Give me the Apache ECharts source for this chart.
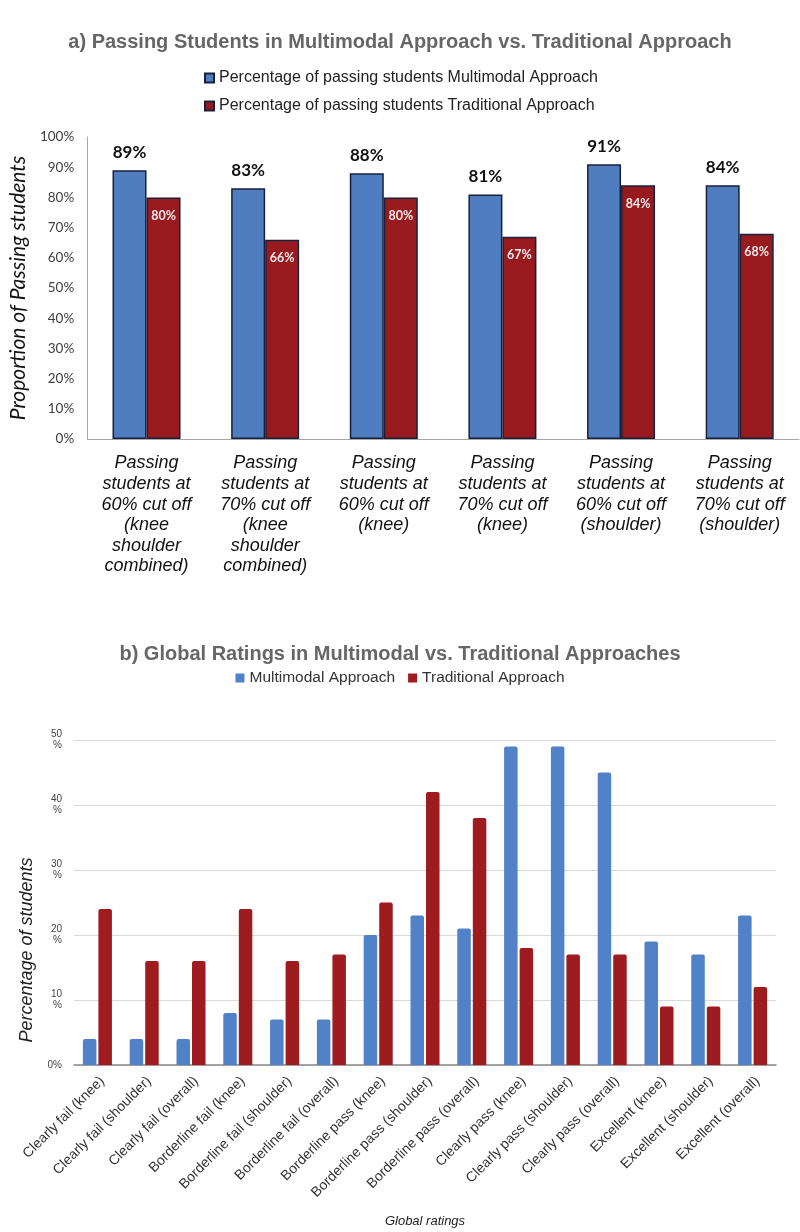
<!DOCTYPE html>
<html>
<head>
<meta charset="utf-8">
<script src="https://cdn.jsdelivr.net/npm/echarts@6/dist/echarts.min.js"></script>
<style>html,body{margin:0;padding:0;background:#fff;}#c{width:800px;height:1232px;}</style>
</head>
<body>
<div id="c"></div>
<script>
// ---- Chart a data ----
const categoriesA = [
  'Passing\nstudents at\n60% cut off\n(knee\nshoulder\ncombined)',
  'Passing\nstudents at\n70% cut off\n(knee\nshoulder\ncombined)',
  'Passing\nstudents at\n60% cut off\n(knee)',
  'Passing\nstudents at\n70% cut off\n(knee)',
  'Passing\nstudents at\n60% cut off\n(shoulder)',
  'Passing\nstudents at\n70% cut off\n(shoulder)'
];
const multimodalA = [89, 83, 88, 81, 91, 84];
const traditionalA = [80, 66, 80, 67, 84, 68];
const seriesNamesA = ['Percentage of passing students Multimodal Approach', 'Percentage of passing students Traditional Approach'];

// ---- Chart b data ----
const categoriesB = [
  'Clearly fail (knee)', 'Clearly fail (shoulder)', 'Clearly fail (overall)',
  'Borderline fail (knee)', 'Borderline fail (shoulder)', 'Borderline fail (overall)',
  'Borderline pass (knee)', 'Borderline pass (shoulder)', 'Borderline pass (overall)',
  'Clearly pass (knee)', 'Clearly pass (shoulder)', 'Clearly pass (overall)',
  'Excellent (knee)', 'Excellent (shoulder)', 'Excellent (overall)'
];
const multimodalB = [4, 4, 4, 8, 7, 7, 20, 23, 21, 49, 49, 45, 19, 17, 23];
const traditionalB = [24, 16, 16, 24, 16, 17, 25, 42, 38, 18, 17, 17, 9, 9, 12];
const seriesNamesB = ['Multimodal Approach', 'Traditional Approach'];

const chart = echarts.init(document.getElementById('c'));
const ARIAL = 'Liberation Sans, Arial, sans-serif';
const CAL = 'Lato, Carlito, sans-serif';

chart.setOption({
  backgroundColor: '#ffffff',
  animation: false,
  title: [
    { text: 'a) Passing Students in Multimodal Approach vs. Traditional Approach', left: 'center', top: 27,
      textStyle: { fontFamily: ARIAL, fontWeight: 'bold', fontSize: 20, color: '#666666' } },
    { text: 'b) Global Ratings in Multimodal vs. Traditional Approaches', left: 'center', top: 639,
      textStyle: { fontFamily: ARIAL, fontWeight: 'bold', fontSize: 20, color: '#666666' } }
  ],
  legend: [
    { data: seriesNamesA, orient: 'vertical', left: 199, top: 65, itemWidth: 9, itemHeight: 9, itemGap: 12,
      icon: 'rect', textStyle: { fontFamily: ARIAL, fontSize: 16, color: '#222' } },
    { data: seriesNamesB, orient: 'horizontal', left: 'center', top: 665, itemWidth: 9, itemHeight: 9, itemGap: 13,
      icon: 'rect', textStyle: { fontFamily: ARIAL, fontSize: 15.5, color: '#333' } }
  ],
  grid: [
    { left: 84, right: 1, top: 137, height: 302 },
    { left: 74, right: 24, top: 740, height: 325 }
  ],
  xAxis: [
    { type: 'category', gridIndex: 0, data: categoriesA,
      axisLine: { lineStyle: { color: '#a6a6a6', width: 1 } }, axisTick: { show: false },
      axisLabel: { interval: 0, margin: 14, fontFamily: ARIAL, fontStyle: 'italic', fontSize: 18, lineHeight: 20.6, color: '#111', align: 'center' } },
    { type: 'category', gridIndex: 1, data: categoriesB,
      name: 'Global ratings', nameLocation: 'middle', nameGap: 150,
      nameTextStyle: { fontFamily: ARIAL, fontStyle: 'italic', fontSize: 13, color: '#222' },
      axisLine: { lineStyle: { color: '#888', width: 1.5 } }, axisTick: { show: false },
      axisLabel: { interval: 0, rotate: 45, margin: 9, verticalAlign: 'top', fontFamily: ARIAL, fontSize: 14, color: '#333' } }
  ],
  yAxis: [
    { type: 'value', gridIndex: 0, min: 0, max: 100, interval: 10,
      name: 'Proportion of Passing students', nameLocation: 'middle', nameGap: 48,
      nameTextStyle: { fontFamily: CAL, fontStyle: 'italic', fontSize: 21, color: '#111' },
      axisLine: { show: true, lineStyle: { color: '#a6a6a6', width: 1 } }, axisTick: { show: false },
      splitLine: { show: false },
      axisLabel: { formatter: '{value}%', margin: 13, fontFamily: CAL, fontSize: 13.5, color: '#404040' } },
    { type: 'value', gridIndex: 1, min: 0, max: 50, interval: 10,
      axisLine: { show: false }, axisTick: { show: false },
      splitLine: { lineStyle: { color: '#d9d9d9', width: 1 } },
      axisLabel: { formatter: function (v) { return v === 0 ? '0%' : v + '\n%'; }, margin: 12,
        fontFamily: ARIAL, fontSize: 10, lineHeight: 11, color: '#444' } }
  ],
  graphic: [
    { type: 'text', x: 27, y: 950, rotation: Math.PI / 2,
      style: { text: 'Percentage of students', fontFamily: ARIAL, fontStyle: 'italic', fontSize: 18, fill: '#222',
        align: 'center', verticalAlign: 'middle' } }
  ],
  series: [
    { name: seriesNamesA[0], type: 'bar', xAxisIndex: 0, yAxisIndex: 0, data: multimodalA,
      barWidth: 34, barGap: '0%',
      itemStyle: { color: '#4f7dc0', borderColor: '#18213a', borderWidth: 1.5 },
      label: { show: true, position: 'top', distance: 9, formatter: '{c}%', fontFamily: CAL, fontWeight: 'bold', fontSize: 17, color: '#111' } },
    { name: seriesNamesA[1], type: 'bar', xAxisIndex: 0, yAxisIndex: 0, data: traditionalA,
      barWidth: 34, barGap: '0%',
      itemStyle: { color: '#981a1f', borderColor: '#18213a', borderWidth: 1.5 },
      label: { show: true, position: 'insideTop', distance: 12, formatter: '{c}%', fontFamily: CAL, fontWeight: 'bold', fontSize: 12.5, color: '#f3eaea' } },
    { name: seriesNamesB[0], type: 'bar', xAxisIndex: 1, yAxisIndex: 1, data: multimodalB,
      barWidth: 13.5, barGap: '15%',
      itemStyle: { color: '#5181c6', borderRadius: [2, 2, 0, 0] } },
    { name: seriesNamesB[1], type: 'bar', xAxisIndex: 1, yAxisIndex: 1, data: traditionalB,
      barWidth: 13.5, barGap: '15%',
      itemStyle: { color: '#9e1b20', borderRadius: [2, 2, 0, 0] } }
  ]
});
</script>
</body>
</html>
